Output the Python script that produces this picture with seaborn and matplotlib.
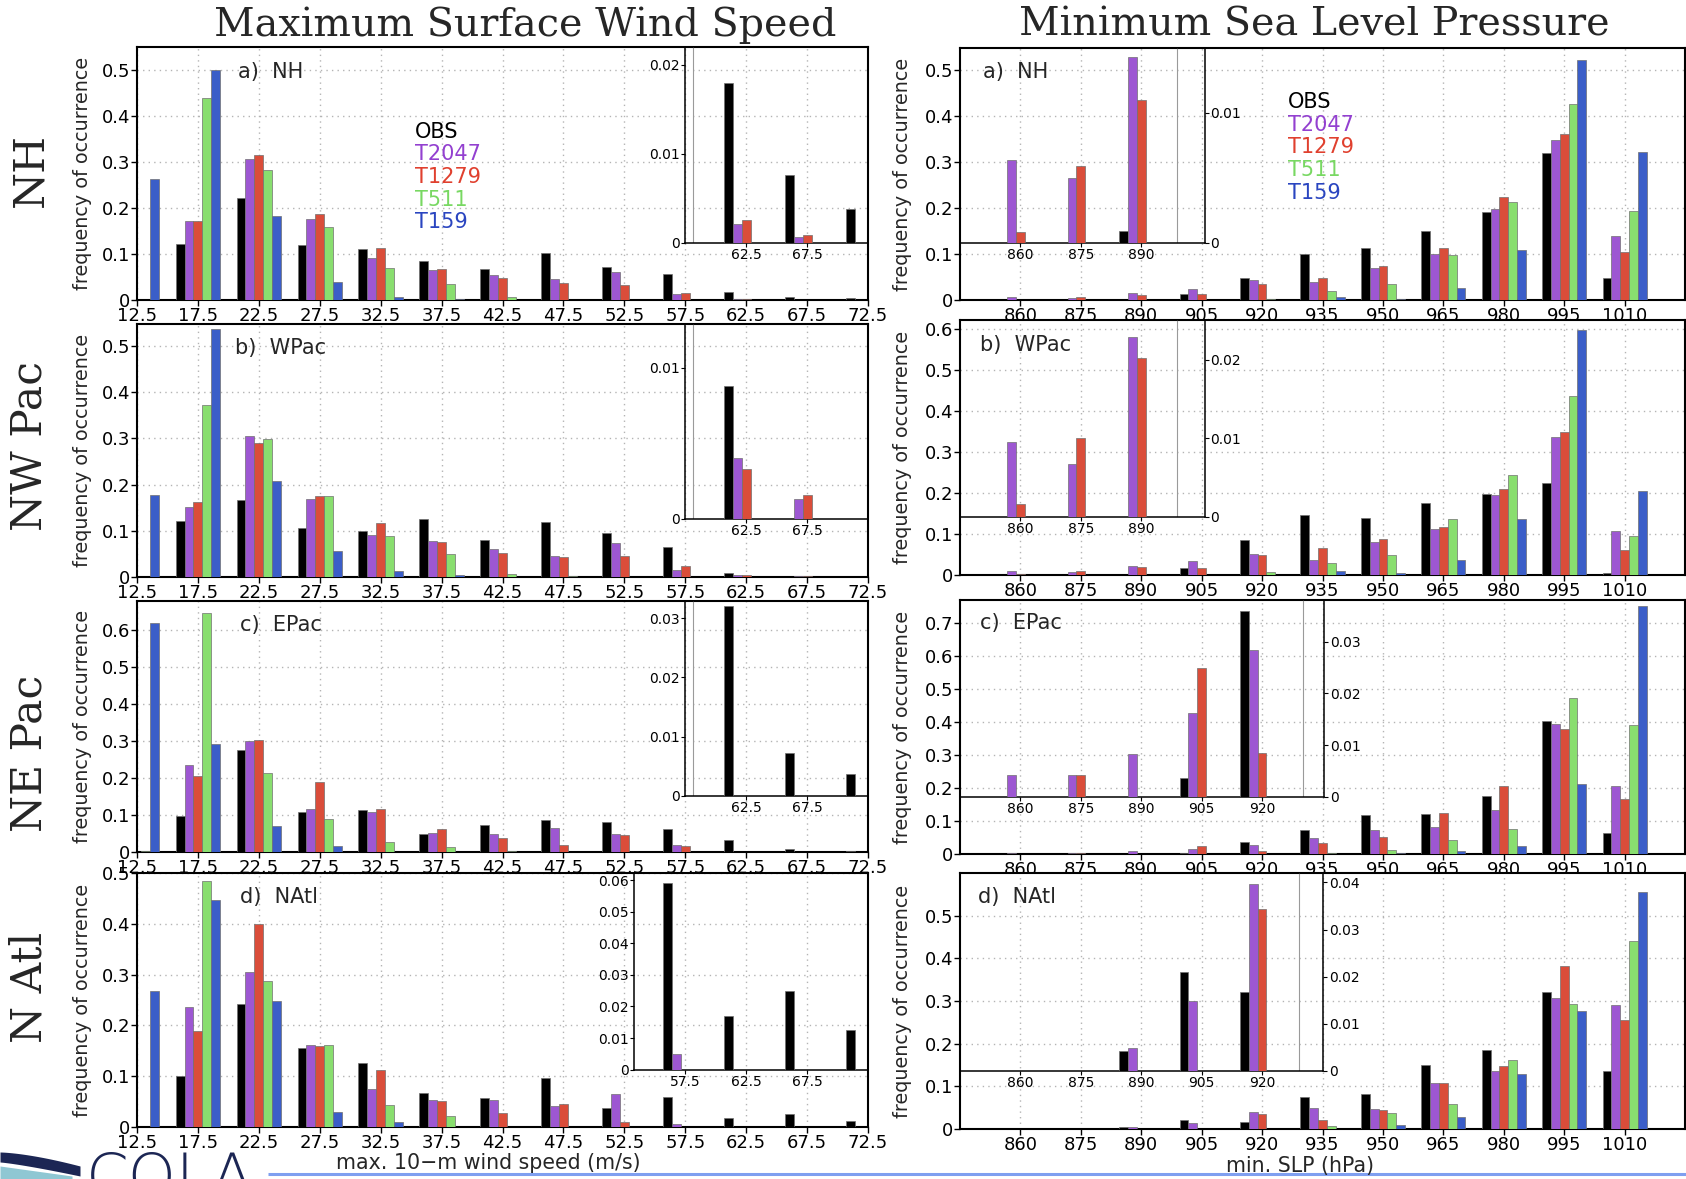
import numpy as np
import pandas as pd
import matplotlib
matplotlib.use("Agg")
import matplotlib.pyplot as plt
import seaborn as sns

# ---------------- data ----------------
MODELS = ["OBS", "T2047", "T1279", "T511", "T159"]
BAR_COLORS = ["#000000", "#a043e6", "#f5391f", "#7ff05c", "#2352e0"]
TEXT_COLORS = ["#000000", "#9340d0", "#e0402e", "#78d862", "#2a45c0"]

WIND_BINS = ["12.5", "17.5", "22.5", "27.5", "32.5", "37.5", "42.5",
             "47.5", "52.5", "57.5", "62.5", "67.5", "72.5"]
SLP_BINS = ["860", "875", "890", "905", "920", "935", "950",
            "965", "980", "995", "1010"]

wind_nh = {
    "OBS":   [0, 0.123, 0.222, 0.120, 0.110, 0.086, 0.068, 0.103, 0.072, 0.057, 0.018, 0.0076, 0.0038],
    "T2047": [0, 0.173, 0.307, 0.177, 0.092, 0.065, 0.055, 0.045, 0.062, 0.013, 0.0021, 0.0006, 0],
    "T1279": [0, 0.172, 0.315, 0.188, 0.114, 0.068, 0.047, 0.036, 0.033, 0.016, 0.0025, 0.0008, 0],
    "T511":  [0, 0.440, 0.283, 0.159, 0.069, 0.034, 0.006, 0.001, 0, 0, 0, 0, 0],
    "T159":  [0.263, 0.500, 0.182, 0.039, 0.007, 0.002, 0, 0, 0, 0, 0, 0, 0],
}
wind_wpac = {
    "OBS":   [0, 0.121, 0.167, 0.107, 0.100, 0.125, 0.081, 0.120, 0.095, 0.066, 0.0088, 0, 0],
    "T2047": [0, 0.151, 0.305, 0.168, 0.090, 0.079, 0.060, 0.046, 0.074, 0.015, 0.0040, 0.0013, 0],
    "T1279": [0, 0.163, 0.291, 0.175, 0.116, 0.075, 0.053, 0.044, 0.045, 0.023, 0.0033, 0.0016, 0],
    "T511":  [0, 0.372, 0.298, 0.175, 0.088, 0.050, 0.006, 0.003, 0, 0, 0, 0, 0],
    "T159":  [0.177, 0.538, 0.207, 0.056, 0.012, 0.005, 0, 0, 0, 0, 0, 0, 0],
}
wind_epac = {
    "OBS":   [0, 0.098, 0.276, 0.109, 0.113, 0.049, 0.074, 0.085, 0.081, 0.063, 0.032, 0.0072, 0.0036],
    "T2047": [0, 0.235, 0.300, 0.117, 0.108, 0.051, 0.048, 0.065, 0.048, 0.020, 0, 0, 0],
    "T1279": [0, 0.206, 0.301, 0.189, 0.116, 0.061, 0.037, 0.020, 0.045, 0.016, 0, 0, 0],
    "T511":  [0.004, 0.645, 0.213, 0.088, 0.026, 0.014, 0.003, 0, 0, 0, 0, 0, 0],
    "T159":  [0.618, 0.292, 0.070, 0.016, 0, 0, 0, 0, 0, 0, 0, 0, 0],
}
wind_natl = {
    "OBS":   [0, 0.100, 0.243, 0.155, 0.126, 0.067, 0.058, 0.096, 0.037, 0.059, 0.017, 0.025, 0.0127],
    "T2047": [0, 0.237, 0.305, 0.162, 0.074, 0.054, 0.054, 0.042, 0.064, 0.005, 0, 0, 0],
    "T1279": [0, 0.188, 0.400, 0.159, 0.113, 0.051, 0.028, 0.045, 0.010, 0, 0, 0, 0],
    "T511":  [0, 0.485, 0.288, 0.162, 0.044, 0.022, 0, 0, 0, 0, 0, 0, 0],
    "T159":  [0.267, 0.446, 0.248, 0.030, 0.009, 0, 0, 0, 0, 0, 0, 0, 0],
}
slp_nh = {
    "OBS":   [0, 0, 0.0009, 0.014, 0.048, 0.101, 0.114, 0.150, 0.191, 0.321, 0.048],
    "T2047": [0.0064, 0.0050, 0.0143, 0.024, 0.043, 0.040, 0.069, 0.101, 0.199, 0.348, 0.140],
    "T1279": [0.0008, 0.0059, 0.0110, 0.013, 0.034, 0.048, 0.073, 0.114, 0.225, 0.362, 0.104],
    "T511":  [0, 0, 0, 0.001, 0.003, 0.019, 0.034, 0.098, 0.213, 0.427, 0.194],
    "T159":  [0, 0, 0, 0, 0, 0.006, 0.003, 0.026, 0.110, 0.523, 0.323],
}
slp_wpac = {
    "OBS":   [0, 0, 0, 0.018, 0.085, 0.146, 0.140, 0.176, 0.198, 0.225, 0.005],
    "T2047": [0.0095, 0.0067, 0.0229, 0.035, 0.052, 0.036, 0.080, 0.111, 0.195, 0.337, 0.107],
    "T1279": [0.0016, 0.0101, 0.0203, 0.017, 0.048, 0.067, 0.088, 0.116, 0.210, 0.350, 0.062],
    "T511":  [0, 0, 0, 0.001, 0.007, 0.029, 0.048, 0.137, 0.243, 0.437, 0.094],
    "T159":  [0, 0, 0, 0, 0, 0.010, 0.004, 0.036, 0.137, 0.598, 0.206],
}
slp_epac = {
    "OBS":   [0, 0, 0, 0.0037, 0.036, 0.073, 0.118, 0.122, 0.177, 0.404, 0.064],
    "T2047": [0.0042, 0.0042, 0.0083, 0.0163, 0.0285, 0.048, 0.074, 0.081, 0.134, 0.394, 0.207],
    "T1279": [0, 0.0042, 0, 0.025, 0.0084, 0.033, 0.050, 0.123, 0.207, 0.377, 0.168],
    "T511":  [0, 0, 0, 0, 0, 0.002, 0.013, 0.042, 0.075, 0.472, 0.392],
    "T159":  [0, 0, 0, 0, 0, 0, 0.002, 0.008, 0.025, 0.211, 0.752],
}
slp_natl = {
    "OBS":   [0, 0, 0.0041, 0.021, 0.0167, 0.075, 0.083, 0.150, 0.184, 0.322, 0.137],
    "T2047": [0, 0, 0.0049, 0.0148, 0.0396, 0.049, 0.048, 0.107, 0.137, 0.306, 0.290],
    "T1279": [0, 0, 0, 0, 0.0343, 0.022, 0.045, 0.107, 0.147, 0.382, 0.256],
    "T511":  [0, 0, 0, 0, 0, 0.007, 0.037, 0.058, 0.162, 0.294, 0.441],
    "T159":  [0, 0, 0, 0, 0, 0, 0.009, 0.029, 0.129, 0.277, 0.555],
}

COL_TITLES = ["Maximum Surface Wind Speed", "Minimum Sea Level Pressure"]
ROW_TITLES = ["NH", "NW Pac", "NE Pac", "N Atl"]
PANEL_LABELS = ["a)  NH", "b)  WPac", "c)  EPac", "d)  NAtl"]
X_LABELS = ["max. 10\u2212m wind speed (m/s)", "min. SLP (hPa)"]
Y_LABEL = "frequency of occurrence"

# ---------------- style ----------------
sns.set_theme(style="white")
NARROW = ["Liberation Sans Narrow", "DejaVu Sans"]
plt.rcParams["font.family"] = NARROW
PAL = dict(zip(MODELS, BAR_COLORS))

W, H = 1686, 1179
fig = plt.figure(figsize=(W / 100, H / 100), dpi=100)


def rect(x0, y0, x1, y1):
    return [x0 / W, 1 - y1 / H, (x1 - x0) / W, (y1 - y0) / H]


def long_df(bins, series, keep=None):
    rows = []
    for m in MODELS:
        for b, v in zip(bins, series[m]):
            if keep is None or b in keep:
                rows.append((b, m, v))
    return pd.DataFrame(rows, columns=["bin", "model", "freq"])


def fmt(v):
    return "0" if v == 0 else ("%g" % v)


def bars(ax, bins, series, keep=None):
    sns.barplot(data=long_df(bins, series, keep), x="bin", y="freq", hue="model",
                order=bins, hue_order=MODELS, palette=PAL, width=0.73,
                errorbar=None, edgecolor="#707070", linewidth=0.5,
                legend=False, ax=ax, zorder=3)
    ax.set_xlabel("")
    ax.set_ylabel("")


def style_spines(ax, lw):
    for s in ax.spines.values():
        s.set_visible(True)
        s.set_color("black")
        s.set_linewidth(lw)


def panel(ax, bins, series, xlim, ytop, yticks, inset):
    bars(ax, bins, series)
    ax.set_xlim(*xlim)
    ax.set_ylim(0, ytop)
    ax.set_xticks(range(len(bins)))
    ax.set_xticklabels(bins)
    ax.set_yticks(yticks)
    ax.set_yticklabels([fmt(v) for v in yticks])
    ax.set_axisbelow(True)
    ax.grid(True, color="#b4b4b4", linestyle=(0, (1, 3)), linewidth=1.0)
    ax.tick_params(direction="out", length=4, width=1, labelsize=13, pad=1,
                   colors="black", bottom=True, left=True)
    style_spines(ax, 1.5)

    x0, x1, y0, iytop, iyticks, ixticks, keep, gline, side = inset
    axi = ax.inset_axes([x0, y0, x1 - x0, ytop - y0], transform=ax.transData)
    axi.set_facecolor("none")
    bars(axi, bins, series, keep)
    axi.set_xlim(x0, x1)
    axi.set_ylim(0, iytop)
    axi.set_xticks(ixticks)
    axi.set_xticklabels([bins[i] for i in ixticks])
    axi.set_yticks(iyticks)
    axi.set_yticklabels([fmt(v) for v in iyticks])
    axi.grid(False)
    axi.tick_params(direction="out", length=3, width=0.8, labelsize=10, pad=1,
                    colors="black", bottom=True, left=(side == "left"),
                    right=(side == "right"), labelleft=(side == "left"),
                    labelright=(side == "right"))
    style_spines(axi, 1.1)
    axi.axvline(gline, color="#9a9a9a", linewidth=0.8, zorder=1)
    return axi


WIND_X = (137, 868)
SLP_X = (960, 1685)
WIND_ROWS = [(47, 300), (324, 577), (601, 852), (873, 1127)]
SLP_ROWS = [(48, 300), (320, 575), (600, 854), (873, 1129)]

wind_data = [wind_nh, wind_wpac, wind_epac, wind_natl]
slp_data = [slp_nh, slp_wpac, slp_epac, slp_natl]

wind_ytop = [0.551, 0.548, 0.677, 0.5]
wind_yticks = [np.arange(0, 0.51, 0.1), np.arange(0, 0.51, 0.1),
               np.arange(0, 0.61, 0.1), np.arange(0, 0.51, 0.1)]
slp_ytop = [0.549, 0.622, 0.769, 0.6]
slp_yticks = [np.arange(0, 0.51, 0.1), np.arange(0, 0.61, 0.1),
              np.arange(0, 0.71, 0.1), np.arange(0, 0.51, 0.1)]

wind_insets = [
    (9.0, 12.0, 0.125, 0.022, [0, 0.01, 0.02], [10, 11], WIND_BINS[10:], 9.12, "left"),
    (9.0, 12.0, 0.126, 0.0129, [0, 0.01], [10, 11], WIND_BINS[10:], 9.12, "left"),
    (9.0, 12.0, 0.1516, 0.0329, [0, 0.01, 0.02, 0.03], [10, 11], WIND_BINS[10:], 9.12, "left"),
    (8.16, 12.0, 0.113, 0.0623, [0, 0.01, 0.02, 0.03, 0.04, 0.05, 0.06], [9, 10, 11],
     WIND_BINS[9:], 8.1, "left"),
]
slp_insets = [
    (-1.0, 3.05, 0.125, 0.015, [0, 0.01], [0, 1, 2], SLP_BINS[:3], 2.59, "right"),
    (-1.0, 3.05, 0.142, 0.0251, [0, 0.01, 0.02], [0, 1, 2], SLP_BINS[:3], 2.59, "right"),
    (-1.0, 5.03, 0.1736, 0.0381, [0, 0.01, 0.02, 0.03], [0, 1, 2, 3, 4], SLP_BINS[:5], 4.67, "right"),
    (-1.0, 5.01, 0.1365, 0.042, [0, 0.01, 0.02, 0.03, 0.04], [0, 1, 2, 3, 4], SLP_BINS[:5], 4.61, "right"),
]

for r in range(4):
    axw = fig.add_axes(rect(WIND_X[0], WIND_ROWS[r][0], WIND_X[1], WIND_ROWS[r][1]))
    panel(axw, WIND_BINS, wind_data[r], (0, 12), wind_ytop[r], wind_yticks[r], wind_insets[r])
    axs = fig.add_axes(rect(SLP_X[0], SLP_ROWS[r][0], SLP_X[1], SLP_ROWS[r][1]))
    panel(axs, SLP_BINS, slp_data[r], (-1, 11), slp_ytop[r], slp_yticks[r], slp_insets[r])

# ---------------- overlay texts ----------------
ov = fig.add_axes([0, 0, 1, 1])
ov.set_xlim(0, W)
ov.set_ylim(H, 0)
ov.axis("off")
ov.set_zorder(20)
ov.patch.set_alpha(0)

SERIF = "DejaVu Serif"
SANS = "DejaVu Sans"
ov.text(525, 25, COL_TITLES[0], ha="center", va="center", fontsize=28.5, family=SERIF)
ov.text(1314, 25, COL_TITLES[1], ha="center", va="center", fontsize=28.5, family=SERIF)
for lab, yc in zip(ROW_TITLES, [170, 446, 753, 987]):
    ov.text(30, yc, lab, rotation=90, ha="center", va="center", fontsize=30.5, family=SERIF)

wind_lab_pos = [(238, 72), (235, 348), (240, 625), (240, 897)]
slp_lab_pos = [(983, 72), (980, 345), (980, 623), (978, 897)]
for r in range(4):
    ov.text(*wind_lab_pos[r], PANEL_LABELS[r], ha="left", va="center", fontsize=15, family=SANS)
    ov.text(*slp_lab_pos[r], PANEL_LABELS[r], ha="left", va="center", fontsize=15, family=SANS)
    yc = (WIND_ROWS[r][0] + WIND_ROWS[r][1]) / 2
    ov.text(83, yc, Y_LABEL, rotation=90, ha="center", va="center", fontsize=13.8, family=SANS)
    yc = (SLP_ROWS[r][0] + SLP_ROWS[r][1]) / 2
    ov.text(903, yc, Y_LABEL, rotation=90, ha="center", va="center", fontsize=13.8, family=SANS)

for i, (m, c) in enumerate(zip(MODELS, TEXT_COLORS)):
    ov.text(415, 132 + 22.5 * i, m, color=c, ha="left", va="center", fontsize=15, family=SANS)
    ov.text(1288, 102 + 22.7 * i, m, color=c, ha="left", va="center", fontsize=15, family=SANS)

ov.text(488, 1163, X_LABELS[0], ha="center", va="center", fontsize=14.8, family=SANS)
ov.text(1300, 1166, X_LABELS[1], ha="center", va="center", fontsize=14.8, family=SANS)

# footer: line and COLA logo
ov.plot([268, W], [1174, 1174], color="#7f9ff0", linewidth=2.2, solid_capstyle="butt")
ov.text(86, 1197, "COLA", ha="left", va="baseline", fontsize=44, family=SANS,
        fontweight="light", color="#1c2654")
t = np.linspace(0, 1, 40)
bx = 0 + 80 * t
ov.fill_between(bx, 1152 + 14 * t ** 1.5, 1162 + 14 * t ** 1.2, color="#1c2654", linewidth=0)
ov.fill_between(bx * 0.9, 1166 + 10 * t, 1179, color="#8fc7d3", linewidth=0)

fig.savefig("out.png", dpi=100)
